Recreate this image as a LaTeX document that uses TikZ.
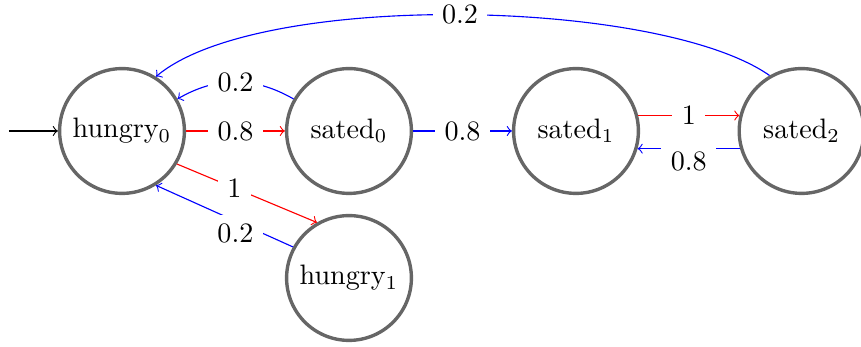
\documentclass[tikz,border=0pt]{standalone}
\usepackage{amsmath}
\usepackage{tikz}
\usetikzlibrary{arrows,positioning}

\begin{document}
\begin{tikzpicture}
	[inner sep=0pt,
	state/.style	= {circle, draw=black!60, very thick, minimum size=15.6mm},
	paths/.style	= {->, >=to},
	fwd/.style	= {paths, red},
	back/.style	= {paths, blue},
	prob/.style	= {fill=white, text=black, inner sep=.333em}]
	
	\useasboundingbox (0,0) rectangle (10.7625,4.3375);
	
	\coordinate (start) at (0.11, 2.7);
	
	\node at (1.525, 2.7)	[state]	(h0)	{hungry$_0$};
	\node at (4.3625, 2.7)	[state]	(s0)	{sated$_0$};
	\node at (7.2, 2.7)	[state]	(s1)	{sated$_1$};
	\node at (10.02, 2.7)	[state]	(s2)	{sated$_2$};
	\node at (4.3625, 0.8625)	[state]	(h1)	{hungry$_1$};
	
	\draw [paths] (start) -- (h0);
	
	\draw [fwd] (h0) -- (s0) node[prob, midway] {0.8};
	\draw [back] (s0) to[bend right=30] node[prob, midway] {0.2} (h0);
	\draw [back] (s0) -- (s1) node[prob, midway] {0.8};
	\draw [fwd] (s1.14) -- (s2.166) node[prob, midway] {1};
	\draw [back] (s2.196) -- (s1.-16) node[prob, midway, yshift=-0.16cm] {0.8};
	\draw [fwd] (h0.-31) -- (h1.120) node[prob, pos=0.41] {1};
	\draw [back] (h1.151) -- (h0.-58) node[prob, pos=0.42, yshift=-0.16cm] {0.2};
	\draw [back] (s2.120) to[out=145, in=40, looseness=0.56] node[prob, midway] {0.2} (h0.58);
\end{tikzpicture}
\end{document}
